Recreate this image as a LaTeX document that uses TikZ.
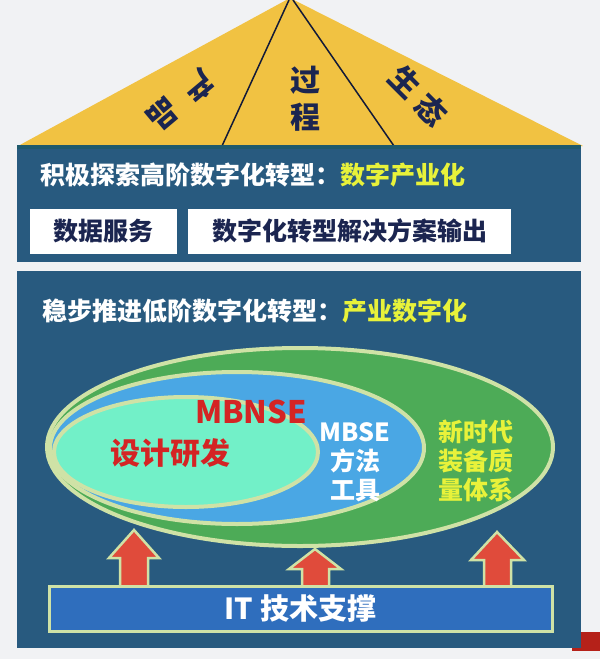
\documentclass[tikz,border=0pt]{standalone}
\usepackage{fontspec}
\setmainfont{Noto Sans CJK SC}
\usetikzlibrary{shapes.geometric}
\definecolor{bg}{HTML}{F1F2F4}
\definecolor{roof}{HTML}{F1C242}
\definecolor{panel}{HTML}{285A7F}
\definecolor{paneltop}{HTML}{1F5A6C}
\definecolor{navy}{HTML}{1B2550}
\definecolor{ylw}{HTML}{E8F23A}
\definecolor{grn}{HTML}{4DAB57}
\definecolor{sky}{HTML}{4AA7E4}
\definecolor{aqua}{HTML}{72F0C8}
\definecolor{rim}{HTML}{CFE2A6}
\definecolor{barblue}{HTML}{2F6EBD}
\definecolor{arrowred}{HTML}{E04B3B}
\definecolor{darkred}{HTML}{B52119}
\definecolor{mbred}{HTML}{D42424}
\begin{document}
\begin{tikzpicture}[x=1pt,y=-1pt,
  rooftext/.style={text=navy,font=\fontsize{30}{30}\selectfont\bfseries,inner sep=0pt},
  titletext/.style={font=\fontsize{25}{25}\selectfont\bfseries,inner sep=0pt,anchor=west},
  whitebox/.style={fill=white,draw=none,minimum height=45pt,font=\fontsize{25}{25}\selectfont\bfseries,text=navy,inner sep=0pt},
  ell/.style={ellipse,draw=rim,line width=4pt,inner sep=0pt},
  uparrow/.style={fill=arrowred,draw=rim,line width=2.5pt,line join=miter}
]
\fill[bg] (0,0) rectangle (600,659);
\useasboundingbox (0,0) rectangle (600,659);

% roof
\fill[roof] (18,146) -- (290,-2) -- (583,146) -- cycle;
\coordinate (apexL) at (289,0);
\coordinate (apexR) at (293,0);
\coordinate (baseL) at (222,146);
\coordinate (baseR) at (394,146);
\draw[navy!70!black,line width=1.5pt] (apexL) -- (baseL);
\draw[navy!70!black,line width=1.5pt] (apexR) -- (baseR);
\node[rooftext,rotate=-140] (chan) at (198,86) {产};
\node[rooftext,rotate=-140] (pin) at (163,114) {品};
\node[rooftext] (guo) at (305,80) {过};
\node[rooftext] (cheng) at (305,117) {程};
\node[rooftext,rotate=-45] (sheng) at (405,82) {生};
\node[rooftext,rotate=-45] (tai) at (432,110) {态};

% red corner
\fill[darkred] (572,632) rectangle (600,651);

% upper panel
\fill[panel] (17,146) rectangle (581,262);
\fill[paneltop] (17,145) rectangle (581,149);
\node[titletext] (t1) at (40,175) {\textcolor{white}{积极探索高阶数字化转型：}\textcolor{ylw}{数字产业化}};
\node[whitebox,minimum width=147pt] (b1) at (103.5,231) {数据服务};
\node[whitebox,minimum width=323pt] (b2) at (349.5,231) {数字化转型解决方案输出};

% lower panel
\fill[panel] (17,271) rectangle (581,648);
\node[titletext] (t2) at (42,311) {\textcolor{white}{稳步推进低阶数字化转型：}\textcolor{ylw}{产业数字化}};

% ellipses
\node[ell,fill=grn,minimum width=506pt,minimum height=198pt] (outer) at (300,447) {};
\node[ell,fill=sky,minimum width=374pt,minimum height=152pt] (mid) at (237,448) {};
\node[ell,fill=aqua,minimum width=264pt,minimum height=110pt] (inner) at (186,452) {};

\node[font=\fontsize{31}{31}\selectfont\bfseries,text=mbred,inner sep=0pt] (mbnse) at (251,412) {MBNSE};
\node[font=\fontsize{30}{30}\selectfont\bfseries,text=mbred,inner sep=0pt] (sheji) at (170,453) {设计研发};
\node[font=\fontsize{25}{29}\selectfont\bfseries,text=white,align=center,inner sep=0pt] (mbse) at (355,462) {MBSE\\方法\\工具};
\node[font=\fontsize{25}{29}\selectfont\bfseries,text=ylw,align=center,inner sep=0pt] (xsd) at (476,461) {新时代\\装备质\\量体系};

% arrows
\draw[uparrow] (120,587) -- (120,558) -- (109,558) -- (134,530) -- (159,558) -- (148,558) -- (148,587);
\draw[uparrow] (302,587) -- (302,569) -- (289,569) -- (315,549) -- (341,569) -- (329,569) -- (329,587);
\draw[uparrow] (484,587) -- (484,560) -- (471,560) -- (497,532) -- (524,560) -- (511,560) -- (511,587);

% IT bar
\node[fill=barblue,draw=rim,line width=3pt,minimum width=503pt,minimum height=45pt,inner sep=0pt,
      font=\fontsize{29}{29}\selectfont\bfseries,text=white] (it) at (300.5,609) {IT 技术支撑};
\end{tikzpicture}
\end{document}
